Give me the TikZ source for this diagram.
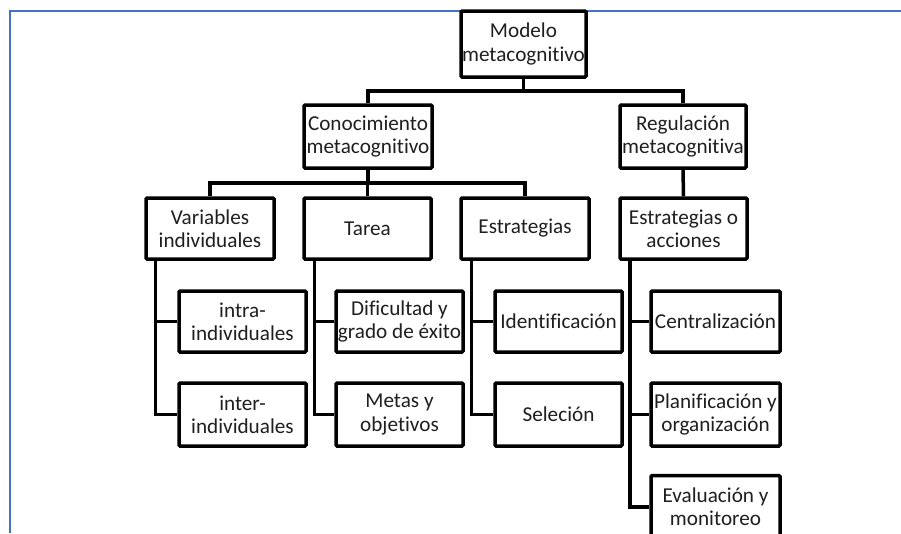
\documentclass[tikz,border=0pt]{standalone}
\usepackage{fontspec}
\setmainfont{Carlito}[Ligatures=NoCommon]
\definecolor{frameblue}{RGB}{68,114,196}
\begin{document}
\begin{tikzpicture}[x=1pt,y=-1pt,
  box/.style={draw=black, line width=3.5pt, fill=white, rounded corners=1pt,
    align=center, inner sep=0pt, minimum height=61pt, text=black!88,
    font=\fontsize{21.2}{23.2}\selectfont},
  link/.style={draw=black, line width=3.5pt}]
\useasboundingbox (0,0) rectangle (901,533);
% blue frame
\draw[frameblue, line width=2pt] (10,533) -- (10,11) -- (901,11);
% nodes
\node[box, minimum width=125pt, minimum height=66pt] (modelo) at (523.5,44) {Modelo\\metacognitivo};
\node[box, minimum width=128pt, minimum height=63pt] (conoc) at (368,136.5) {Conocimiento\\metacognitivo};
\node[box, minimum width=126pt, minimum height=63pt] (reg) at (683,136.5) {Regulación\\metacognitiva};
\node[box, minimum width=128pt] (var) at (210,228.5) {Variables\\individuales};
\node[box, minimum width=127pt] (tarea) at (367.5,228.5) {Tarea};
\node[box, minimum width=128pt] (estr) at (525,228.5) {Estrategias};
\node[box, minimum width=127pt] (eoa) at (683.5,228.5) {Estrategias o\\acciones};
\node[box, minimum width=127pt] (intra) at (242.5,321.5) {intra-\\individuales};
\node[box, minimum width=127pt] (dif) at (399.5,321.5) {Dificultad y\\grado de éxito};
\node[box, minimum width=127pt] (ident) at (558.5,321.5) {Identificación};
\node[box, minimum width=129pt] (centr) at (715.5,321.5) {Centralización};
\node[box, minimum width=127pt, minimum height=63pt] (inter) at (242.5,414.5) {inter-\\individuales};
\node[box, minimum width=127pt, minimum height=63pt] (metas) at (399.5,414.5) {Metas y\\objetivos};
\node[box, minimum width=127pt, minimum height=63pt] (selec) at (558.5,414.5) {Seleción};
\node[box, minimum width=129pt, minimum height=63pt] (plan) at (715.5,414.5) {Planificación y\\organización};
\node[box, minimum width=129pt, minimum height=63pt] (eval) at (715.5,507) {Evaluación y\\monitoreo};
% bus coordinates
\coordinate (b1) at (0,91);
\coordinate (b2) at (0,183);
% connectors
\draw[link] (modelo.south) -- (modelo.south |- b1);
\draw[link] (conoc.north) |- (modelo.south |- b1) -| (reg.north);
\draw[link] (conoc.south) -- (conoc.south |- b2);
\draw[link] (var.north) |- (conoc.south |- b2) -| (estr.north);
\draw[link] (tarea.north) -- (tarea.north |- b2);
\draw[link] (reg.south) -- (eoa.north);
\draw[link] ([xshift=11pt]var.south west) |- (intra.west);
\draw[link] ([xshift=11pt]var.south west) |- (inter.west);
\draw[link] ([xshift=12pt]tarea.south west) |- (dif.west);
\draw[link] ([xshift=12pt]tarea.south west) |- (metas.west);
\draw[link] ([xshift=12pt]estr.south west) |- (ident.west);
\draw[link] ([xshift=12pt]estr.south west) |- (selec.west);
\draw[link] ([xshift=11.5pt]eoa.south west) |- (centr.west);
\draw[link] ([xshift=11.5pt]eoa.south west) |- (plan.west);
\draw[link] ([xshift=11.5pt]eoa.south west) |- (eval.west);
\end{tikzpicture}
\end{document}
